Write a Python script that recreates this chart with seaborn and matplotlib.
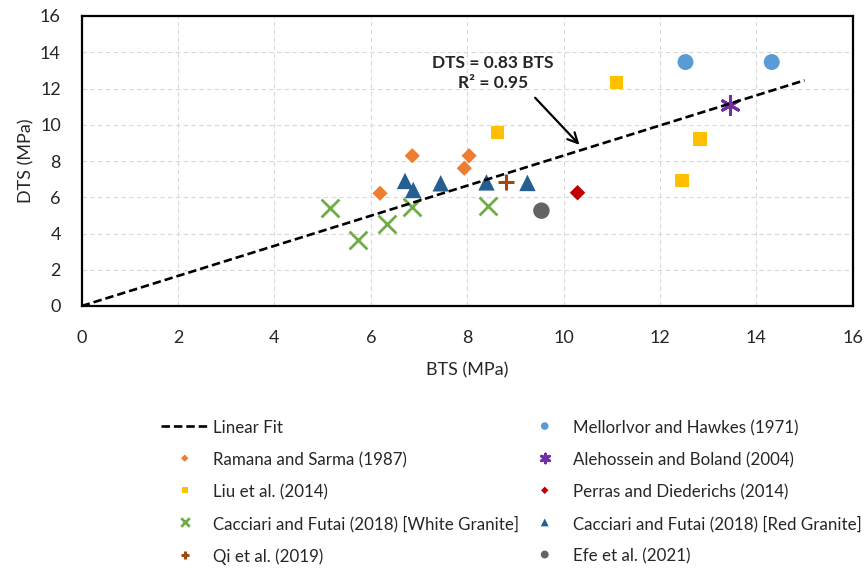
import matplotlib
matplotlib.use("Agg")
import matplotlib.pyplot as plt
import seaborn as sns
import numpy as np
import pandas as pd

# Brazilian (BTS) vs direct (DTS) tensile strength, MPa
mellor_bts = [12.53, 14.32]
mellor_dts = [13.46, 13.46]
ramana_bts = [6.19, 6.86, 7.94, 8.04]
ramana_dts = [6.22, 8.29, 7.60, 8.29]
alehossein_bts = [13.45]
alehossein_dts = [11.11]
liu_bts = [8.63, 11.10, 12.46, 12.83]
liu_dts = [9.58, 12.32, 6.91, 9.21]
perras_bts = [10.29]
perras_dts = [6.25]
white_bts = [5.15, 5.74, 6.33, 6.85, 8.44]
white_dts = [5.39, 3.64, 4.52, 5.44, 5.52]
red_bts = [6.71, 6.88, 7.45, 8.40, 9.25]
red_dts = [6.90, 6.40, 6.77, 6.82, 6.79]
qi_bts = [8.80]
qi_dts = [6.86]
efe_bts = [9.54]
efe_dts = [5.26]

fit_slope = 0.83
fit_r2 = 0.95
fit_x = np.array([0.0, 15.0])
fit_y = fit_slope * fit_x

x_ticks = [0, 2, 4, 6, 8, 10, 12, 14, 16]
y_ticks = [0, 2, 4, 6, 8, 10, 12, 14, 16]

sns.set_theme(style="white")
plt.rcParams['font.family'] = ['Lato', 'DejaVu Sans']

W, H = 865, 569
fig = plt.figure(figsize=(W / 100, H / 100), dpi=100)
ax = fig.add_axes([81.7 / W, 1 - 306 / H, (852.7 - 81.7) / W, (306 - 16) / H])

series = [
    ("MellorIvor and Hawkes (1971)", mellor_bts, mellor_dts, "o", "#5B9BD5", 132, 0),
    ("Ramana and Sarma (1987)", ramana_bts, ramana_dts, "D", "#ED7D31", 60, 0),
    ("Alehossein and Boland (2004)", alehossein_bts, alehossein_dts, (6, 2, 0), "#7030A0", 170, 2.2),
    ("Liu et al. (2014)", liu_bts, liu_dts, "s", "#FFC000", 92, 0),
    ("Perras and Diederichs (2014)", perras_bts, perras_dts, "D", "#C00000", 62, 0),
    ("Cacciari and Futai (2018) [White Granite]", white_bts, white_dts, "x", "#70AD47", 165, 2.0),
    ("Cacciari and Futai (2018) [Red Granite]", red_bts, red_dts, "^", "#255E91", 140, 0),
    ("Qi et al. (2019)", qi_bts, qi_dts, "+", "#9E480E", 130, 2.2),
    ("Efe et al. (2021)", efe_bts, efe_dts, "o", "#636363", 140, 0),
]

handles = {}
for label, xs, ys, mk, col, size, lw in series:
    df = pd.DataFrame({"BTS": xs, "DTS": ys})
    sns.scatterplot(data=df, x="BTS", y="DTS", ax=ax, marker=mk, color=col,
                    s=size, linewidth=lw, edgecolor=col if lw else "none",
                    zorder=3, legend=False)
    handles[label] = ax.collections[-1]

fit_df = pd.DataFrame({"BTS": fit_x, "DTS": fit_y})
sns.lineplot(data=fit_df, x="BTS", y="DTS", ax=ax, color="black", linewidth=1.9,
             linestyle=(0, (3.2, 1.5)), zorder=4)
fit_line = ax.lines[-1]
if ax.get_legend() is not None:
    ax.get_legend().remove()

ax.set_xlim(0, 16)
ax.set_ylim(0, 16)
ax.set_xticks(x_ticks)
ax.set_yticks(y_ticks)
ax.grid(True, color="#D9D9D9", linestyle=(0, (4, 3)), linewidth=0.8)
for sp in ax.spines.values():
    sp.set_color("black")
    sp.set_linewidth(1.6)
ax.tick_params(axis="both", length=0, labelsize=13, colors="#262626")
ax.tick_params(axis="x", pad=17)
ax.tick_params(axis="y", pad=15)
ax.set_xlabel("BTS (MPa)", fontsize=13, color="#262626", labelpad=12)
ax.set_ylabel("DTS (MPa)", fontsize=13, color="#262626", labelpad=4)

ax.text(8.53, 12.86, f"DTS = {fit_slope} BTS\nR\u00b2 = {fit_r2}", ha="center", va="center",
        multialignment="center", fontsize=12.5, fontweight="bold", linespacing=1.3)
ax.annotate("", xy=(10.37, 8.78), xytext=(9.37, 11.60),
            arrowprops=dict(arrowstyle="->", color="black", lw=1.6,
                            mutation_scale=18))

col1 = ["Ramana and Sarma (1987)", "Liu et al. (2014)",
        "Cacciari and Futai (2018) [White Granite]", "Qi et al. (2019)"]
col2 = ["MellorIvor and Hawkes (1971)", "Alehossein and Boland (2004)",
        "Perras and Diederichs (2014)", "Cacciari and Futai (2018) [Red Granite]",
        "Efe et al. (2021)"]

leg_kw = dict(frameon=False, fontsize=12.2, markerscale=0.48, handlelength=2.8,
              handletextpad=0.25, handleheight=1.4, labelspacing=0.74, borderpad=0,
              borderaxespad=0, loc="upper left", labelcolor="#262626")
leg1 = fig.legend([fit_line] + [handles[k] for k in col1], ["Linear Fit"] + col1,
                  bbox_to_anchor=(161 / W, 1 - 418 / H), **leg_kw)
leg2 = fig.legend([handles[k] for k in col2], col2,
                  bbox_to_anchor=(521 / W, 1 - 418 / H), **leg_kw)

fig.savefig("out.png", dpi=100)
